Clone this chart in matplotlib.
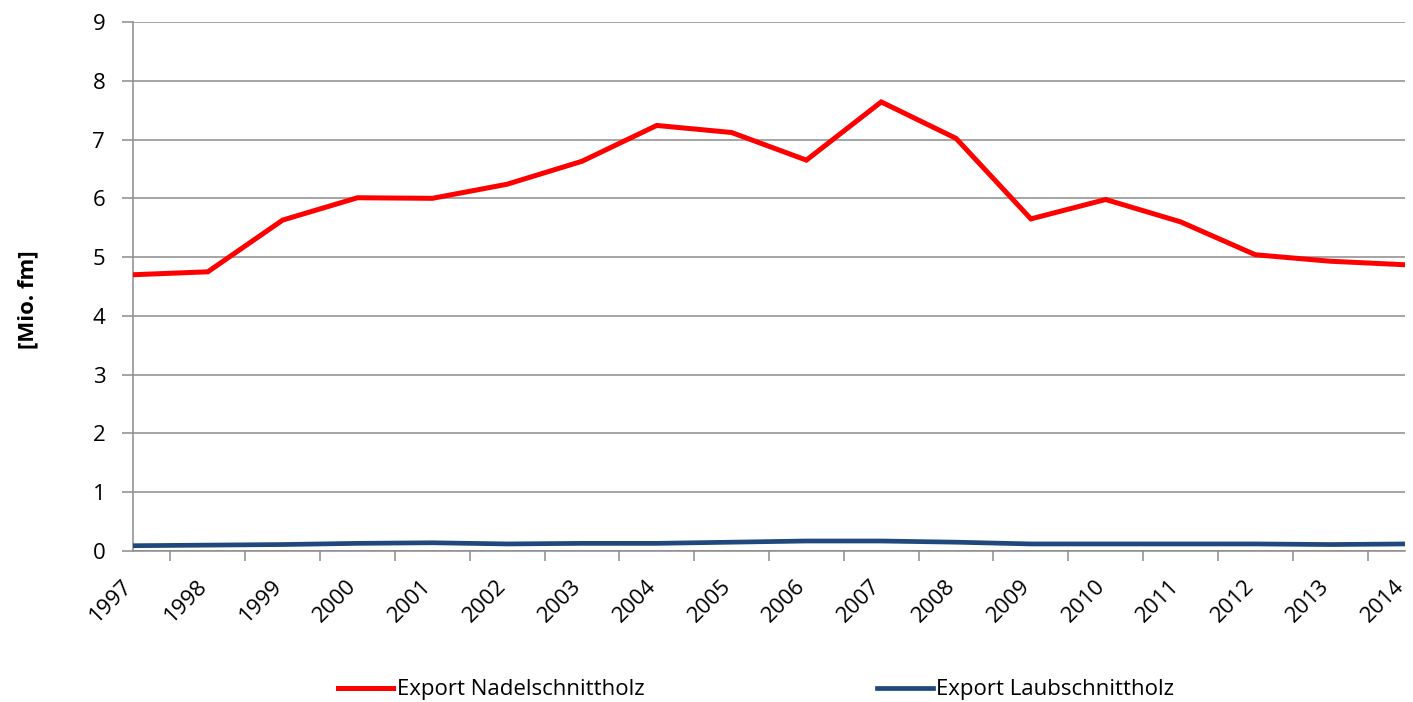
import matplotlib
matplotlib.use("Agg")
import matplotlib.pyplot as plt
import matplotlib.transforms as mtransforms
import numpy as np

years = list(range(1997, 2015))
nadel = [4.70, 4.75, 5.63, 6.01, 6.00, 6.24, 6.63, 7.24, 7.12, 6.65,
         7.64, 7.02, 5.65, 5.98, 5.60, 5.04, 4.93, 4.87]
laub = [0.09, 0.10, 0.11, 0.13, 0.14, 0.12, 0.13, 0.13, 0.15, 0.17,
        0.17, 0.15, 0.12, 0.12, 0.12, 0.12, 0.11, 0.12]
yticks = list(range(0, 10))
ylabel = "[Mio. fm]"
series_names = ["Export Nadelschnittholz", "Export Laubschnittholz"]

plt.rcParams['font.family'] = ['Open Sans', 'DejaVu Sans']

fig = plt.figure(figsize=(14.13, 7.02), dpi=100)
ax = fig.add_axes([133/1413, 1-551/702, (1405-133)/1413, (551-22)/702])

ax.plot(years, nadel, color='#FF0000', lw=3.6, label=series_names[0],
        solid_joinstyle='miter', zorder=3)
ax.plot(years, laub, color='#1F497D', lw=3.4, label=series_names[1], zorder=3)

ax.set_xlim(years[0], years[-1])
ax.set_ylim(0, 9)
ax.set_yticks(yticks)
ax.yaxis.grid(True, color='#8C8C8C', lw=1.1)
ax.set_axisbelow(True)

ax.set_xticks(years)
ax.set_xticklabels([str(y) for y in years], rotation=45, ha='right', va='center',
                   rotation_mode='anchor', fontsize=16)
ax.tick_params(axis='x', which='major', length=0, pad=23)
offset = mtransforms.ScaledTranslation(-4/100, 0, fig.dpi_scale_trans)
for lbl in ax.get_xticklabels():
    lbl.set_transform(lbl.get_transform() + offset)
ax.set_xticks([y + 0.5 for y in years[:-1]] + [years[-1]], minor=True)
ax.tick_params(axis='x', which='minor', length=7, width=1.1, color='#8C8C8C')
ax.tick_params(axis='y', length=8, width=1.1, color='#8C8C8C', labelsize=16, pad=12)

for s in ['top', 'right']:
    ax.spines[s].set_visible(False)
for s in ['left', 'bottom']:
    ax.spines[s].set_color('#8C8C8C')
    ax.spines[s].set_linewidth(1.1)

fig.text(28/1413, 1-300/702, ylabel, rotation=90, ha='center', va='center',
         fontsize=16, fontweight='bold')

fig.legend(loc='center', bbox_to_anchor=(756/1413, 1-690/702), ncol=2,
           frameon=False, fontsize=16, handlelength=2.5, handletextpad=0.15,
           columnspacing=10.5)

fig.savefig('out.png', dpi=100)
